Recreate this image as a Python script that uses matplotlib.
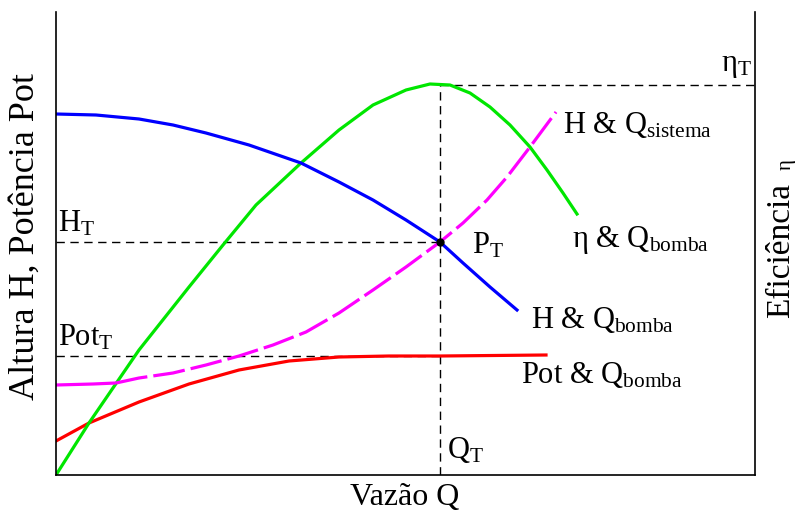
import matplotlib
matplotlib.use("Agg")
import matplotlib.pyplot as plt

plt.rcParams['font.family'] = ['Liberation Serif', 'DejaVu Serif']
plt.rcParams['mathtext.fontset'] = 'custom'
plt.rcParams['mathtext.rm'] = 'Liberation Serif'
plt.rcParams['mathtext.it'] = 'Liberation Serif:italic'

# curves (arbitrary units, Q on x, H / Pot / eta on y)
q_h = [0, 40, 83, 117, 150, 193, 245, 283, 317, 350, 384, 407, 434, 461]
h_bomba = [361, 360, 356, 350, 342, 330, 312, 293, 275, 255, 233, 212, 188, 165]

q_eta = [0, 33, 83, 133, 167, 200, 245, 283, 317, 350, 374, 394, 414, 434, 454, 474, 491, 507, 521]
eta_bomba = [0, 52, 125, 188, 230, 270, 312, 345, 370, 385, 391, 390, 382, 368, 350, 328, 305, 282, 261]

q_sis = [0, 37, 60, 83, 117, 150, 183, 217, 250, 283, 317, 350, 384, 407, 431, 451, 474, 500]
h_sistema = [90, 91, 92, 97, 102, 110, 119, 130, 143, 162, 185, 208, 233, 252, 275, 298, 328, 363]

q_pot = [0, 33, 83, 133, 183, 233, 283, 333, 384, 490]
pot_bomba = [34, 52, 73, 91, 105, 114, 118, 119, 119, 120]

# operating point
Q_T = 384
H_T = 233
Pot_T = 119
eta_T = 390

fig = plt.figure(figsize=(7.95, 5.17), dpi=100)
ax = fig.add_axes([56/795, 42/517, 699/795, 463/517])
ax.set_xlim(0, 699)
ax.set_ylim(0, 463)
ax.set_xticks([])
ax.set_yticks([])
ax.spines['top'].set_visible(False)
for s in ['left', 'right', 'bottom']:
    ax.spines[s].set_linewidth(1.2)

# guide lines
dash = dict(color='black', lw=1.0, dashes=(6, 4))
ax.plot([0, Q_T], [H_T, H_T], **dash)
ax.plot([0, Q_T], [Pot_T, Pot_T], **dash)
ax.plot([Q_T, 699], [eta_T, eta_T], **dash)
ax.plot([Q_T, Q_T], [0, eta_T], **dash)

ax.plot(q_pot, pot_bomba, color='#ff0000', lw=2.3)
ax.plot(q_eta, eta_bomba, color='#00e600', lw=2.3)
ax.plot(q_sis[:3], h_sistema[:3], color='#ff00ff', lw=2.3, solid_capstyle='butt')
ax.plot(q_sis[2:], h_sistema[2:], color='#ff00ff', lw=2.3, dashes=(10, 1.9))
ax.plot(q_h, h_bomba, color='#0000ff', lw=2.3)
ax.plot([Q_T], [H_T], 'o', color='black', ms=5)

fs = 22
ax.text(2, 243, 'H$_\\mathrm{T}$', fontsize=fs, va='baseline')
ax.text(2, 130, 'Pot$_\\mathrm{T}$', fontsize=fs, va='baseline')
ax.text(696, 404, 'η$_\\mathrm{T}$', fontsize=fs, va='baseline', ha='right')
ax.text(416, 222, 'P$_\\mathrm{T}$', fontsize=fs, va='baseline')
ax.text(391, 17, 'Q$_\\mathrm{T}$', fontsize=fs, va='baseline')
ax.text(507, 342, 'H & Q$_\\mathrm{sistema}$', fontsize=fs, va='baseline')
ax.text(516, 228, 'η & Q$_\\mathrm{bomba}$', fontsize=fs, va='baseline')
ax.text(475, 147, 'H & Q$_\\mathrm{bomba}$', fontsize=fs, va='baseline')
ax.text(465, 92, 'Pot & Q$_\\mathrm{bomba}$', fontsize=fs, va='baseline')

fig.text(405/795, 1 - 497/517, 'Vazão Q', fontsize=23, ha='center', va='center')
fig.text(25/795, 1 - 236/517, 'Altura H, Potência Pot', fontsize=26,
         rotation=90, ha='center', va='center')
fig.text(781/795, 1 - 250/517, 'Eficiência', fontsize=24,
         rotation=90, ha='center', va='center')
fig.text(786/795, 1 - 165/517, 'η', fontsize=15,
         rotation=90, ha='center', va='center')

fig.savefig('out.png', dpi=100)
